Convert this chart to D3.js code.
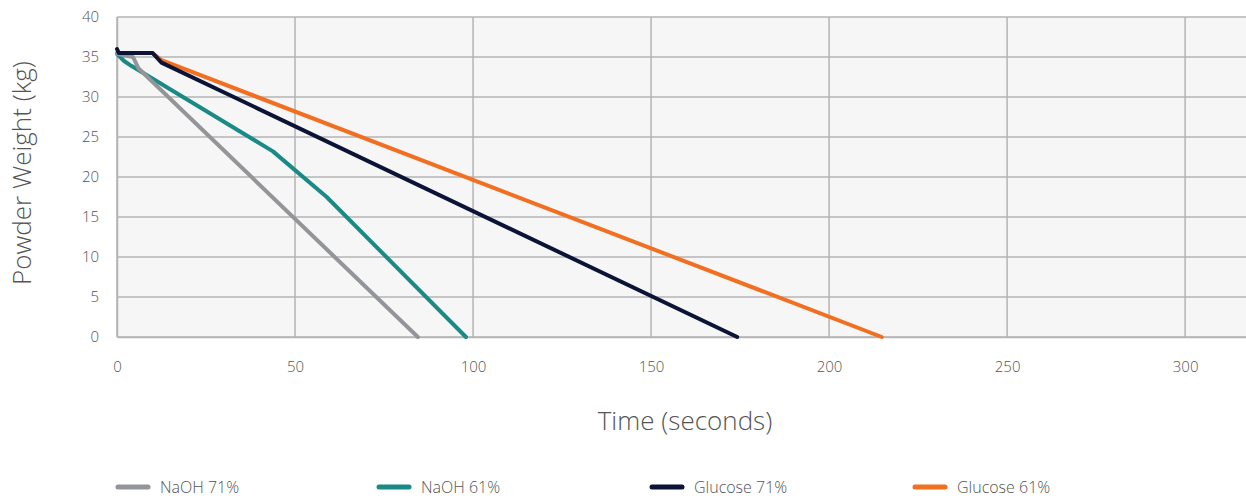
<!DOCTYPE html>
<html><head><meta charset="utf-8">
<script src="https://cdn.jsdelivr.net/npm/d3@7"></script>
<style>
html,body{margin:0;padding:0;background:#fff;}
svg text{font-family:"Open Sans",Lato,sans-serif;font-weight:300;fill:#555;}
</style></head><body>
<svg id="c" width="1246" height="498"></svg>
<script>
const seriesNames = ["NaOH 71%", "NaOH 61%", "Glucose 71%", "Glucose 61%"];
const seriesColors = ["#939598", "#1a8a86", "#0b1436", "#f26f21"];
const naoh71 = [[0,35.4],[4.5,35.0],[6,33.6],[84.5,0]];
const naoh61 = [[0,35.4],[2,34.5],[4,33.9],[43.8,23.2],[58.9,17.5],[98,0]];
const glucose71 = [[0,36.0],[0.5,35.5],[10,35.5],[12.5,34.3],[174.2,0]];
const glucose61 = [[0,35.5],[10,35.5],[12.5,34.6],[214.8,0]];
const xTicks = [0,50,100,150,200,250,300];
const yTicks = [0,5,10,15,20,25,30,35,40];
const xTitle = "Time (seconds)";
const yTitle = "Powder Weight (kg)";

const series = [naoh71, naoh61, glucose71, glucose61];
const drawOrder = [3, 1, 0, 2];
const svg = d3.select("#c");
const L = 117, R = 1246, T = 17, B = 337;
const x = d3.scaleLinear().domain([0, 317.1]).range([L, R]);
const y = d3.scaleLinear().domain([0, 40]).range([B, T]);

svg.append("rect").attr("x", L).attr("y", T).attr("width", R - L).attr("height", B - T).attr("fill", "#f6f6f6");

// grid
const g = svg.append("g");
g.selectAll(".hy").data(yTicks).join("line")
  .attr("x1", L).attr("x2", R).attr("y1", d => y(d)).attr("y2", d => y(d))
  .attr("stroke", "#b4b4b4").attr("stroke-width", 1.5);
g.selectAll(".vx").data(xTicks).join("line")
  .attr("x1", d => x(d)).attr("x2", d => x(d)).attr("y1", T).attr("y2", B)
  .attr("stroke", "#b4b4b4").attr("stroke-width", 1.5);

// axes
const xa = svg.append("g").attr("transform", `translate(0,${B})`)
  .call(d3.axisBottom(x).tickValues(xTicks).tickSize(0).tickPadding(24));
xa.select(".domain").attr("stroke", "#b4b4b4").attr("stroke-width", 1.5);
xa.selectAll("text").attr("font-size", 15).style("fill", "#555");
const ya = svg.append("g").attr("transform", `translate(${L},0)`)
  .call(d3.axisLeft(y).tickValues(yTicks).tickSize(0).tickPadding(18));
ya.select(".domain").attr("stroke", "#b4b4b4").attr("stroke-width", 1.5);
ya.selectAll("text").attr("font-size", 15).style("fill", "#555");

// lines
const line = d3.line().x(d => x(d[0])).y(d => y(d[1]));
svg.append("g").selectAll("path").data(drawOrder).join("path")
  .attr("d", i => line(series[i])).attr("fill", "none")
  .attr("stroke", i => seriesColors[i]).attr("stroke-width", 4)
  .attr("stroke-linejoin", "round").attr("stroke-linecap", "round");

// titles
svg.append("text").attr("x", 685).attr("y", 430).attr("text-anchor", "middle")
  .attr("font-size", 26).text(xTitle);
svg.append("text").attr("transform", "translate(31,173) rotate(-90)").attr("text-anchor", "middle")
  .attr("font-size", 26).text(yTitle);

// legend
const legX = [116, 377, 650, 913];
const leg = svg.append("g").selectAll("g").data(seriesNames).join("g")
  .attr("transform", (d, i) => `translate(${legX[i]},487)`);
leg.append("line").attr("x1", 2).attr("x2", 32).attr("y1", 0).attr("y2", 0)
  .attr("stroke", (d, i) => seriesColors[i]).attr("stroke-width", 5).attr("stroke-linecap", "round");
leg.append("text").attr("x", 44).attr("y", 6).attr("font-size", 16).text(d => d);
</script>
</body></html>
